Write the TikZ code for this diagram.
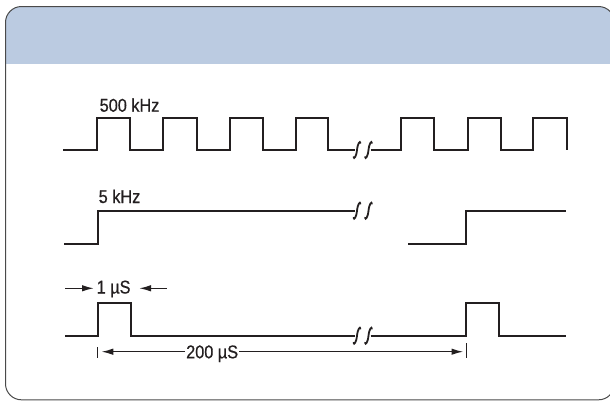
\documentclass[tikz,border=0pt]{standalone}
\usepackage{fontspec}
\setmainfont[FakeStretch=0.88,FakeBold=0.6]{Liberation Sans}
\usetikzlibrary{arrows.meta}
\definecolor{headerblue}{HTML}{BBCBE1}
\definecolor{framegray}{HTML}{4A4A4A}
\definecolor{wavecol}{HTML}{231F20}
\newcommand\brkmark[2]{\draw[brk] (#1-3.5,#2+7) .. controls (#1-3,#2+9.5) and (#1-0.8,#2+7) .. (#1,#2) .. controls (#1+0.8,#2-7) and (#1+3,#2-9.5) .. (#1+3.5,#2-7);}
\begin{document}
\begin{tikzpicture}[x=1pt,y=-1pt,
  wave/.style={line width=2pt, draw=wavecol, line join=miter},
  dimline/.style={line width=1.5pt, draw=wavecol, -{Latex[length=12pt,width=6.5pt]}},
  ticks/.style={line width=1pt, draw=wavecol},
  lbl/.style={font=\fontsize{18.5}{22}\selectfont, inner sep=0pt, anchor=base west, text=wavecol},
  brk/.style={line width=1.8pt, draw=wavecol, line cap=round}]
\useasboundingbox (0,0) rectangle (610,400);
% frame and header band
\begin{scope}
  \clip[rounded corners=16pt] (5.5,6.5) rectangle (614.5,399.8);
  \fill[headerblue] (0,0) rectangle (620,63.5);
\end{scope}
\draw[framegray, line width=1pt, rounded corners=16pt] (5.5,6.5) rectangle (614.5,399.8);

% labels
\node[lbl] (f500) at (99.5,111.7) {500 kHz};
\node[lbl] (f5) at (98.5,203) {5 kHz};
\node[lbl] (w1) at (96.5,293.5) {1 µS};
\node[lbl] (w200) at (186,358.3) {200 µS};

% row 1: 500 kHz
\draw[wave] (63,150) -| (96.7,118) -| (130,150) -| (163,118) -| (196.5,150) -| (229.5,118) -| (262.5,150) -| (295.5,118) -| (328,150) -- (355,150);
\brkmark{357}{150}
\brkmark{368.5}{150}
\draw[wave] (370.5,150) -| (401,118) -| (434,150) -| (467.5,118) -| (501,150) -| (533,118) -| (566.5,150);

% row 2: 5 kHz
\draw[wave] (64,244) -| (98.3,210.7) -- (355,210.7);
\brkmark{357}{210.7}
\brkmark{368.5}{210.7}
\draw[wave] (408,244) -| (465.7,210.7) -- (565.7,210.7);

% row 3: pulses
\draw[wave] (65,335.7) -| (98.3,302.7) -| (131,335.7) -- (355,335.7);
\brkmark{357}{335.7}
\brkmark{368.5}{335.7}
\draw[wave] (370.5,335.7) -| (466,302.7) -| (499.3,335.7) -- (565.7,335.7);

% 1 uS dimension
\coordinate (a1s) at (65,288.3);
\coordinate (a1e) at (94,288.3);
\coordinate (b1s) at (166.7,288.3);
\coordinate (b1e) at (139,288.3);
\draw[dimline] (a1s) -- (a1e);
\draw[dimline] (b1s) -- (b1e);

% 200 uS dimension
\coordinate (tl) at (97.3,351.7);
\coordinate (tr) at (466,351.7);
\draw[ticks] (97.3,347) -- (97.3,358.3);
\draw[ticks] (466,343.3) -- (466,358.3);
\draw[dimline] ([xshift=-1pt]w200.west |- tl) -- ([xshift=4pt]tl);
\draw[dimline] ([xshift=1pt]w200.east |- tr) -- ([xshift=-2.5pt]tr);
\end{tikzpicture}
\end{document}
